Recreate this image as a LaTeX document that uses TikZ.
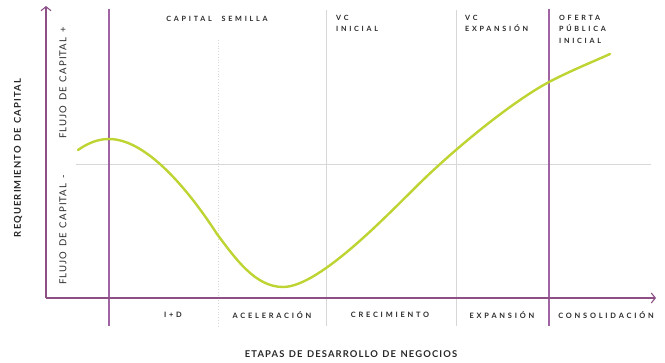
\documentclass[tikz,border=0pt]{standalone}
\usepackage{fontspec}
\setmainfont{Lato}
\newfontfamily\wide[LetterSpace=38, WordSpace=2.2]{Lato}
\newfontfamily\semiwide[LetterSpace=12, WordSpace=1.3]{Lato}
\usetikzlibrary{arrows.meta}
\definecolor{axispurple}{RGB}{140,80,135}
\definecolor{linepurple}{RGB}{160,100,165}
\definecolor{curvegreen}{RGB}{190,212,50}
\definecolor{gridgray}{RGB}{215,215,215}
\definecolor{textgray}{RGB}{40,40,40}
\begin{document}
\begin{tikzpicture}[x=1pt, y=-1pt,
    stage/.style={font=\wide\bfseries\fontsize{7.2}{11.5}\selectfont, text=textgray, inner sep=0pt, align=left},
    phase/.style={font=\wide\bfseries\fontsize{7.4}{8}\selectfont, text=textgray, inner sep=0pt},
    flow/.style={font=\semiwide\fontsize{9.6}{10}\selectfont, text=textgray, inner sep=0pt, rotate=90},
    axislabel/.style={font=\semiwide\bfseries\fontsize{9.4}{10}\selectfont, text=textgray, inner sep=0pt}]
    \useasboundingbox (0,0) rectangle (665,362);

    % Grid lines
    \draw[gridgray, line width=0.7pt] (76,164) -- (651,164);
    \draw[gridgray, line width=0.7pt] (326,10) -- (326,326);
    \draw[gridgray, line width=0.7pt] (456,10) -- (456,326);
    \draw[gridgray, line width=0.8pt, dotted] (218,40) -- (218,328);

    % Stage borders
    \draw[linepurple, line width=1.1pt] (109,9) -- (109,326);
    \draw[linepurple, line width=1.1pt] (549,9) -- (549,326);

    % Axes
    \draw[axispurple, line width=1.1pt, -{Straight Barb[length=4pt, width=10pt]}] (46,298) -- (46,6);
    \draw[axispurple, line width=1.1pt, -{Straight Barb[length=4pt, width=10pt]}] (46,298) -- (656,298);

    % Capital curve
    \draw[curvegreen, line width=2.4pt, line cap=round]
        (78,150) .. controls (88,143) and (98,139) .. (109,139)
        .. controls (150,139) and (195,200) .. (217,234)
        .. controls (235,258) and (255,287) .. (283,287)
        .. controls (320,287) and (390,212) .. (423,180)
        .. controls (455,149) and (510,103) .. (549,82)
        .. controls (570,71) and (590,63) .. (610,54);

    % Funding stages
    \node[stage, anchor=center] (semilla) at (217,19) {CAPITAL SEMILLA};
    \node[stage, anchor=north west] (vcinicial) at (336,15) {VC\\INICIAL};
    \node[stage, anchor=north west] (vcexpansion) at (465,15) {VC\\EXPANSIÓN};
    \node[stage, anchor=north west] (oferta) at (559,15) {OFERTA\\PÚBLICA\\INICIAL};

    % Business phases
    \node[phase] (id) at (173,315) {I+D};
    \node[phase] (aceleracion) at (272,315) {ACELERACIÓN};
    \node[phase] (crecimiento) at (390,315) {CRECIMIENTO};
    \node[phase] (expansion) at (502,315) {EXPANSIÓN};
    \node[phase] (consolidacion) at (606,315) {CONSOLIDACIÓN};

    % Axis labels
    \node[axislabel] (etapas) at (351,354) {ETAPAS DE DESARROLLO DE NEGOCIOS};
    \node[axislabel, rotate=90] (requerimiento) at (18,158) {REQUERIMIENTO DE CAPITAL};
    \node[flow] (flujomas) at (63,83) {FLUJO DE CAPITAL +};
    \node[flow] (flujomenos) at (63,230) {FLUJO DE CAPITAL -};
\end{tikzpicture}
\end{document}
